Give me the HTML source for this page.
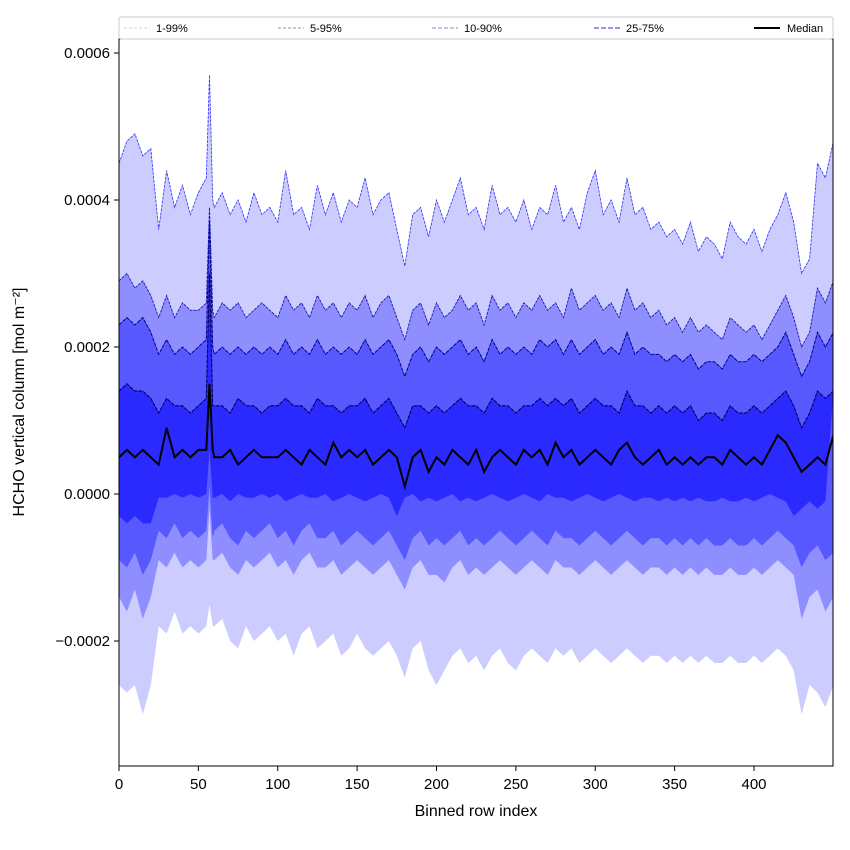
<!DOCTYPE html>
<html><head><meta charset="utf-8"><style>
html,body{margin:0;padding:0;background:#fff;}
svg{display:block;font-family:"Liberation Sans","DejaVu Sans",sans-serif;}
</style></head><body>
<svg id="chart" width="850" height="850" viewBox="0 0 850 850" xmlns="http://www.w3.org/2000/svg">
<defs><clipPath id="plotclip"><rect x="119" y="39" width="714" height="727"/></clipPath></defs>
<rect width="850" height="850" fill="#fff"/>
<g id="plot" clip-path="url(#plotclip)"></g>
<rect x="119" y="39" width="714" height="727" fill="none" stroke="#000" stroke-width="1"/>
<g id="axes"></g>
<g>
<rect x="119" y="17" width="714" height="22" fill="#fff" stroke="#ccc" stroke-width="1" rx="2"/>
<line x1="124" y1="28" x2="150" y2="28" stroke="#d0d0e0" stroke-width="1" stroke-dasharray="3,2"/>
<text x="156" y="32" font-size="11">1-99%</text>
<line x1="278" y1="28" x2="304" y2="28" stroke="#9090a8" stroke-width="1" stroke-dasharray="3,2"/>
<text x="310" y="32" font-size="11">5-95%</text>
<line x1="432" y1="28" x2="458" y2="28" stroke="#8888cc" stroke-width="1" stroke-dasharray="4,2"/>
<text x="464" y="32" font-size="11">10-90%</text>
<line x1="594" y1="28" x2="620" y2="28" stroke="#5555ee" stroke-width="1.2" stroke-dasharray="5,2"/>
<text x="626" y="32" font-size="11">25-75%</text>
<line x1="754" y1="28" x2="780" y2="28" stroke="#000" stroke-width="2"/>
<text x="787" y="32" font-size="11">Median</text>
</g>
<text x="476" y="816" font-size="16" text-anchor="middle">Binned row index</text>
<text x="24" y="402" font-size="16" text-anchor="middle" transform="rotate(-90 24 402)">HCHO vertical column [mol m⁻²]</text>
</svg>
<script>
const rows = [0,5,10,15,20,25,30,35,40,45, 50,55,57,59,60,65,70,75,80,85,90,95, 100,105,110,115,120,125,130,135,140,145, 150,155,160,165,170,175,180,185,190,195, 200,205,210,215,220,225,230,235,240,245, 250,255,260,265,270,275,280,285,290,295, 300,305,310,315,320,325,330,335,340,345, 350,355,360,365,370,375,380,385,390,395, 400,405,410,415,420,425,430,435,440,445, 450];
const p99 = [4.5,4.8,4.9,4.6,4.7,3.6,4.4,3.9,4.2,3.8, 4.1,4.3,5.7,4.0,3.9,4.1,3.8,4.0,3.7,4.1,3.8,3.9, 3.7,4.4,3.8,3.9,3.6,4.2,3.8,4.1,3.7,4.0, 3.9,4.3,3.8,4.0,4.1,3.6,3.1,3.8,3.9,3.5, 4.0,3.7,4.0,4.3,3.8,3.9,3.6,4.2,3.8,3.9, 3.7,4.0,3.6,3.9,3.8,4.2,3.7,3.9,3.6,4.1, 4.4,3.8,4.0,3.7,4.3,3.8,3.9,3.6,3.7,3.5, 3.6,3.4,3.7,3.3,3.5,3.4,3.2,3.7,3.5,3.4, 3.6,3.3,3.6,3.8,4.1,3.7,3.0,3.2,4.5,4.3, 4.8];
const p95 = [2.9,3.0,2.8,2.9,2.7,2.4,2.7,2.4,2.6,2.5, 2.5,2.6,3.9,2.5,2.4,2.6,2.5,2.6,2.4,2.5,2.6,2.5, 2.4,2.7,2.5,2.6,2.4,2.7,2.5,2.6,2.4,2.6, 2.5,2.7,2.4,2.6,2.7,2.4,2.1,2.5,2.6,2.3, 2.6,2.4,2.5,2.7,2.5,2.6,2.3,2.7,2.5,2.6, 2.4,2.6,2.5,2.7,2.5,2.6,2.4,2.8,2.5,2.6, 2.7,2.5,2.6,2.4,2.8,2.5,2.6,2.4,2.5,2.3, 2.4,2.2,2.4,2.2,2.3,2.2,2.1,2.4,2.3,2.2, 2.3,2.1,2.3,2.5,2.7,2.4,2.0,2.2,2.8,2.6, 2.9];
const p90 = [2.3,2.4,2.3,2.4,2.2,1.9,2.1,1.9,2.0,1.9, 2.0,2.1,3.7,2.0,1.9,2.0,1.9,2.0,1.9,2.0,1.9,2.0, 1.9,2.1,1.9,2.0,1.9,2.1,1.9,2.0,1.9,2.0, 1.9,2.1,1.9,2.0,2.1,1.9,1.6,1.9,2.0,1.8, 2.0,1.9,2.0,2.1,1.9,2.0,1.8,2.1,1.9,2.0, 1.9,2.0,1.9,2.1,2.0,2.1,1.9,2.1,1.9,2.0, 2.1,1.9,2.0,1.9,2.2,1.9,2.0,1.9,1.9,1.8, 1.9,1.8,1.9,1.7,1.8,1.8,1.7,1.9,1.8,1.8, 1.9,1.8,1.9,2.0,2.2,1.9,1.6,1.8,2.2,2.0, 2.2];
const p75 = [1.4,1.5,1.4,1.4,1.3,1.1,1.3,1.2,1.2,1.1, 1.2,1.3,3.0,1.2,1.2,1.2,1.1,1.3,1.2,1.2,1.1,1.2, 1.2,1.3,1.2,1.2,1.1,1.3,1.2,1.2,1.1,1.2, 1.2,1.3,1.1,1.2,1.3,1.1,0.9,1.2,1.2,1.1, 1.2,1.1,1.2,1.3,1.2,1.2,1.1,1.3,1.2,1.2, 1.1,1.2,1.2,1.3,1.2,1.3,1.2,1.3,1.1,1.2, 1.3,1.2,1.2,1.1,1.4,1.2,1.2,1.1,1.2,1.1, 1.2,1.1,1.2,1.0,1.1,1.1,1.0,1.2,1.1,1.1, 1.2,1.1,1.2,1.3,1.4,1.2,0.9,1.1,1.4,1.3, 1.4];
const median = [0.5,0.6,0.5,0.6,0.5,0.4,0.9,0.5,0.6,0.5, 0.6,0.6,1.5,0.6,0.5,0.5,0.6,0.4,0.5,0.6,0.5,0.5, 0.5,0.6,0.5,0.4,0.6,0.5,0.4,0.7,0.5,0.6, 0.5,0.6,0.4,0.5,0.6,0.5,0.1,0.5,0.6,0.3, 0.5,0.4,0.6,0.5,0.4,0.6,0.3,0.5,0.6,0.5, 0.4,0.6,0.5,0.6,0.4,0.7,0.5,0.6,0.4,0.5, 0.6,0.5,0.4,0.6,0.7,0.5,0.4,0.5,0.6,0.4, 0.5,0.4,0.5,0.4,0.5,0.5,0.4,0.6,0.5,0.4, 0.5,0.4,0.6,0.8,0.7,0.5,0.3,0.4,0.5,0.4, 0.8];
const p25 = [-0.3,-0.4,-0.3,-0.4,-0.4,-0.05,-0.05,0.0,-0.05,0.0, -0.05,0.0,0.6,-0.05,-0.05,0.0,-0.1,0.0,-0.05,-0.05,0.0, -0.05,0.0,-0.1,-0.05,0.0,-0.05,-0.05,0.0,-0.1,-0.05, 0.0,-0.05,-0.1,-0.05,0.0,-0.05,-0.3,-0.05,0.0,-0.1, -0.05,-0.1,-0.05,0.0,-0.1,-0.05,-0.1,-0.05,0.0,-0.05, -0.1,-0.05,0.0,-0.05,-0.1,0.0,-0.05,-0.05,-0.1,-0.05, 0.0,-0.05,-0.1,-0.05,0.0,-0.05,-0.1,-0.05,-0.05,-0.1, -0.05,-0.1,-0.05,-0.1,-0.05,-0.1,-0.1,-0.05,-0.1,-0.1, -0.05,-0.1,-0.05,0.0,-0.05,-0.1,-0.3,-0.2,-0.1,-0.2, -0.1];
const p10 = [-0.9,-1.0,-0.8,-1.1,-0.9,-0.5,-0.6,-0.4,-0.6,-0.5, -0.6,-0.5,0.1,-0.6,-0.5,-0.4,-0.6,-0.7,-0.5,-0.6,-0.5,-0.4, -0.6,-0.5,-0.7,-0.5,-0.4,-0.6,-0.6,-0.5,-0.7,-0.6, -0.5,-0.6,-0.7,-0.6,-0.5,-0.7,-0.9,-0.6,-0.5,-0.7, -0.6,-0.7,-0.6,-0.5,-0.7,-0.6,-0.7,-0.6,-0.5,-0.6, -0.7,-0.6,-0.5,-0.6,-0.7,-0.5,-0.6,-0.6,-0.7,-0.6, -0.5,-0.6,-0.7,-0.6,-0.5,-0.6,-0.7,-0.6,-0.6,-0.7, -0.6,-0.7,-0.6,-0.7,-0.6,-0.7,-0.7,-0.6,-0.7,-0.7, -0.6,-0.7,-0.6,-0.5,-0.6,-0.7,-1.0,-0.8,-0.7,-0.9, -0.8];
const p5 = [-1.4,-1.6,-1.3,-1.7,-1.4,-0.9,-1.0,-0.8,-1.0,-0.9, -1.0,-0.9,-0.2,-0.9,-0.9,-0.8,-1.0,-1.1,-0.9,-1.0,-0.9,-0.8, -1.0,-0.9,-1.1,-0.9,-0.8,-1.0,-1.0,-0.9,-1.1,-1.0, -0.9,-1.0,-1.1,-1.0,-0.9,-1.1,-1.3,-1.0,-0.9,-1.1, -1.1,-1.2,-1.0,-0.9,-1.1,-1.0,-1.1,-1.0,-0.9,-1.0, -1.1,-1.0,-0.9,-1.0,-1.1,-0.9,-1.0,-1.0,-1.1,-1.0, -0.9,-1.0,-1.1,-1.0,-0.9,-1.0,-1.1,-1.0,-1.0,-1.1, -1.0,-1.1,-1.0,-1.1,-1.0,-1.1,-1.1,-1.0,-1.1,-1.1, -1.0,-1.1,-1.0,-0.9,-1.0,-1.1,-1.7,-1.4,-1.3,-1.6, -1.4];
const p1 = [-2.6,-2.7,-2.6,-3.0,-2.6,-1.8,-1.9,-1.6,-1.9,-1.8, -1.9,-1.8,-1.5,-1.8,-1.8,-1.7,-2.0,-2.1,-1.8,-2.0,-1.9,-1.8, -2.0,-1.9,-2.2,-1.9,-1.8,-2.1,-2.0,-1.9,-2.2,-2.1, -1.9,-2.1,-2.2,-2.1,-2.0,-2.2,-2.5,-2.1,-2.0,-2.4, -2.6,-2.4,-2.2,-2.1,-2.3,-2.2,-2.4,-2.2,-2.1,-2.3, -2.4,-2.2,-2.1,-2.2,-2.3,-2.1,-2.2,-2.1,-2.3,-2.2, -2.1,-2.2,-2.3,-2.2,-2.1,-2.2,-2.3,-2.2,-2.2,-2.3, -2.2,-2.3,-2.2,-2.3,-2.2,-2.3,-2.3,-2.2,-2.3,-2.3, -2.2,-2.3,-2.2,-2.1,-2.2,-2.4,-3.0,-2.6,-2.7,-2.9, -2.6];
const xTicks = [0,50,100,150,200,250,300,350,400];
const yTicks = [-2,0,2,4,6];
const yTickLabels = ["\u22120.0002","0.0000","0.0002","0.0004","0.0006"];

const NS = "http://www.w3.org/2000/svg";
function xs(r){ return 119 + r * (754-119)/400; }
function ys(v){ return 494 - v * (494-200)/4; }
function pts(arr){ return arr.map((v,i)=>xs(rows[i]).toFixed(1)+","+ys(v).toFixed(1)); }
const plot = document.getElementById("plot");
const axes = document.getElementById("axes");
function band(lo, hi, fill, name){
  const p = document.createElementNS(NS,"polygon");
  p.setAttribute("points", pts(hi).concat(pts(lo).reverse()).join(" "));
  p.setAttribute("fill", fill);
  
  
  plot.appendChild(p);
}
function line(arr, stroke, w, dash, name){
  const p = document.createElementNS(NS,"polyline");
  p.setAttribute("points", pts(arr).join(" "));
  p.setAttribute("fill","none");
  p.setAttribute("stroke", stroke);
  p.setAttribute("stroke-width", w);
  if(dash) p.setAttribute("stroke-dasharray", dash);
  
  
  plot.appendChild(p);
}
band(p1, p99, "#ccccff", "band-1-99");
band(p5, p95, "#8e8eff", "band-5-95");
band(p10, p90, "#5858ff", "band-10-90");
band(p25, p75, "#2a2aff", "band-25-75");
line(p99, "#3030ff", 0.8, "3,1", "line-p99");
line(p95, "#1a1ab0", 0.9, "3,1", "line-p95");
line(p90, "#000090", 1, "4,1", "line-p90");
line(p75, "#000060", 1.1, "4,1", "line-p75");
line(median, "#000", 2, null, "line-median");

xTicks.forEach(t=>{
  const l = document.createElementNS(NS,"line");
  l.setAttribute("x1", xs(t)); l.setAttribute("x2", xs(t));
  l.setAttribute("y1", 766); l.setAttribute("y2", 771);
  l.setAttribute("stroke","#000");
  
  
  axes.appendChild(l);
  const tx = document.createElementNS(NS,"text");
  tx.setAttribute("x", xs(t)); tx.setAttribute("y", 789);
  tx.setAttribute("font-size","15"); tx.setAttribute("text-anchor","middle");
  tx.textContent = t;
  
  
  axes.appendChild(tx);
});
yTicks.forEach((t,i)=>{
  const l = document.createElementNS(NS,"line");
  l.setAttribute("x1", 114); l.setAttribute("x2", 119);
  l.setAttribute("y1", ys(t)); l.setAttribute("y2", ys(t));
  l.setAttribute("stroke","#000");
  
  
  axes.appendChild(l);
  const tx = document.createElementNS(NS,"text");
  tx.setAttribute("x", 110); tx.setAttribute("y", ys(t)+5);
  tx.setAttribute("font-size","15"); tx.setAttribute("text-anchor","end");
  tx.textContent = yTickLabels[i];
  
  
  axes.appendChild(tx);
});
</script>
</body></html>
